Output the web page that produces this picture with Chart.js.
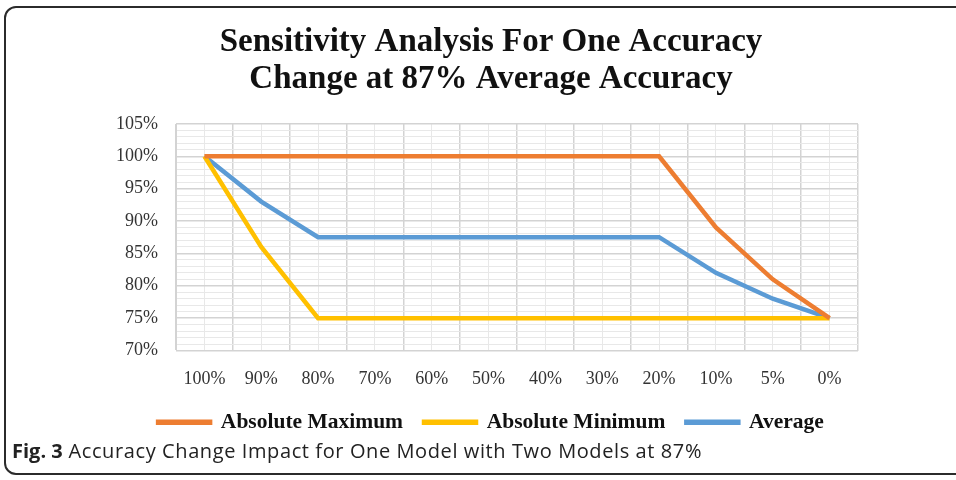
<!DOCTYPE html>
<html>
<head>
<meta charset="utf-8">
<script src="https://cdn.jsdelivr.net/npm/chart.js@4"></script>
<style>
    body { margin: 0; background: #fff; width: 956px; height: 480px; overflow: hidden; position: relative; }
    .fig-frame { position: absolute; left: 4px; top: 6px; width: 1000px; height: 469px; border: 2px solid #2b2b2b; border-radius: 12px; box-sizing: border-box; }
    .chart-box { position: absolute; left: 0; top: 0; width: 956px; height: 443px; }
    .caption { position: absolute; left: 12px; top: 437px; font-family: 'Open Sans', sans-serif; font-size: 20px; letter-spacing: 0.6px; color: #222; white-space: nowrap; }
    .caption b { font-weight: 700; letter-spacing: 0; }
</style>
</head>
<body>
<div class="fig-frame"></div>
<div class="chart-box"><canvas id="sensChart"></canvas></div>
<div class="caption"><b>Fig. 3</b> Accuracy Change Impact for One Model with Two Models at 87%</div>
<script>
// values
const categories = ['100%', '90%', '80%', '70%', '60%', '50%', '40%', '30%', '20%', '10%', '5%', '0%'];
const absMaximum = [100, 100, 100, 100, 100, 100, 100, 100, 100, 89, 81, 75];
const absMinimum = [100, 86, 75, 75, 75, 75, 75, 75, 75, 75, 75, 75];
const average = [100, 93, 87.5, 87.5, 87.5, 87.5, 87.5, 87.5, 87.5, 82, 78, 75];
const titleLines = ['Sensitivity Analysis For One Accuracy', 'Change at 87% Average Accuracy'];

const serif = "'Liberation Serif', 'Times New Roman', serif";

function line(label, data, color) {
    return {
        label: label,
        data: data,
        borderColor: color,
        backgroundColor: color,
        borderWidth: 4.5,
        pointRadius: 0,
        tension: 0
    };
}

const ctx = document.getElementById('sensChart').getContext('2d');
new Chart(ctx, {
    type: 'line',
    data: {
        labels: categories,
        datasets: [
            line('Absolute Maximum', absMaximum, '#ED7D31'),
            line('Absolute Minimum', absMinimum, '#FFC000'),
            line('Average', average, '#5B9BD5')
        ]
    },
    options: {
        responsive: true,
        maintainAspectRatio: false,
        animation: false,
        layout: { padding: { left: 124, right: 98, top: 0, bottom: 0 } },
        plugins: {
            title: {
                display: true,
                text: titleLines,
                color: '#111',
                font: { family: serif, size: 33, weight: 'bold', lineHeight: 1.12 },
                padding: { top: 24, bottom: 26 }
            },
            legend: {
                position: 'bottom',
                labels: {
                    boxWidth: 52,
                    boxHeight: 1,
                    padding: 21,
                    color: '#111',
                    font: { family: serif, size: 21.5, weight: 'bold' }
                }
            },
            tooltip: { enabled: false }
        },
        scales: {
            x: {
                offset: true,
                afterFit: (scale) => { scale.height = 40; },
                grid: { offset: true, color: '#d3d3d3', lineWidth: 1.5, drawTicks: false },
                border: { color: '#d3d3d3' },
                ticks: { color: '#333', padding: 18, maxRotation: 0, font: { family: serif, size: 18 } }
            },
            xCenter: {
                type: 'category',
                position: 'top',
                offset: true,
                grid: { offset: false, color: '#e8e8e8', lineWidth: 1, drawTicks: false },
                border: { display: false },
                ticks: { display: false }
            },
            y: {
                min: 70,
                max: 105,
                afterFit: (scale) => { scale.width = 52; },
                grid: {
                    drawTicks: false,
                    color: (c) => (c.tick && c.tick.value % 5 === 0) ? '#d3d3d3' : '#e8e8e8',
                    lineWidth: (c) => (c.tick && c.tick.value % 5 === 0) ? 1.5 : 1
                },
                border: { color: '#d3d3d3' },
                ticks: {
                    stepSize: 1,
                    autoSkip: false,
                    mirror: true,
                    crossAlign: 'far',
                    padding: -60,
                    color: '#333',
                    font: { family: serif, size: 18 },
                    callback: (v) => (v % 5 === 0 ? v + '%' : '')
                }
            }
        }
    }
});
</script>
</body>
</html>
